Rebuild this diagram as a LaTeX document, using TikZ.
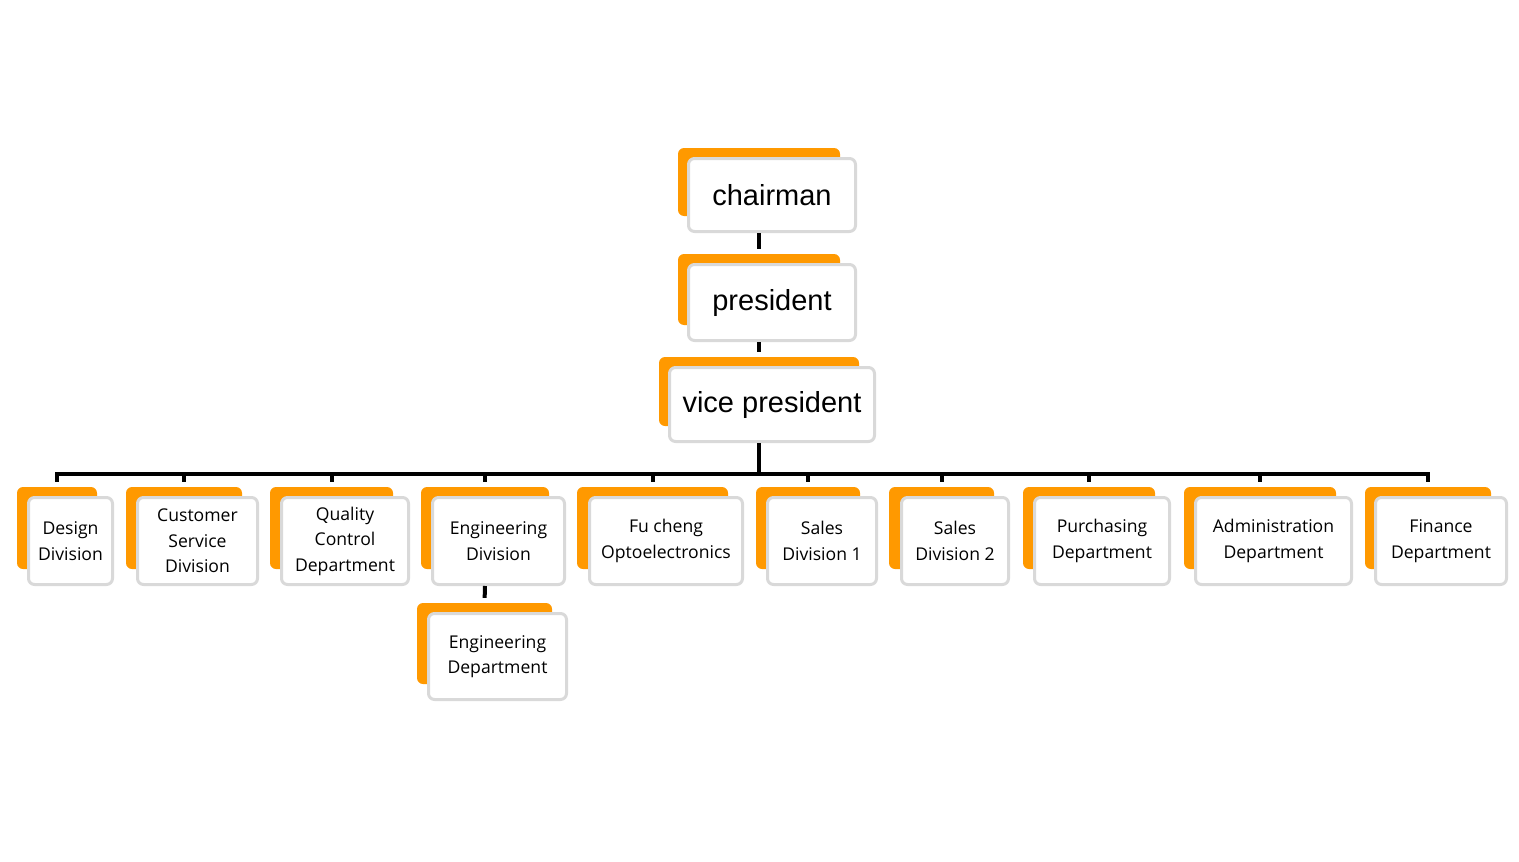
\documentclass[tikz,border=0pt]{standalone}
\usepackage{fontspec}
\setmainfont{Liberation Sans}
\newfontfamily\lowfont{Open Sans}
\usetikzlibrary{fit}
\definecolor{orgc}{HTML}{FF9900}
\definecolor{graybd}{HTML}{D9D9D9}
\tikzset{
  obg/.style={fill=orgc, draw=none, rounded corners=6pt, inner sep=0pt},
  wbox/.style={fill=white, draw=graybd, line width=3pt, rounded corners=6pt, inner sep=0pt, align=center, text=black},
  toptxt/.style={font=\fontsize{29}{34}\selectfont},
  lowtxt/.style={font=\lowfont\fontsize{17.6}{25.5}\selectfont},
  conn/.style={draw=black, line width=4pt},
}
% #1 name, #2 wx1, #3 wy1, #4 wx2, #5 wy2, #6 ox1, #7 ox2, #8 text, #9 text style
\newcommand\orgbox[9]{%
  \node[obg, fit={({#6},{#3-9}) ({#7},{#5-17})}] (#1-o) {};
  \node[wbox, #9, minimum width={#4-#2-3}, minimum height={#5-#3-3}] (#1) at ({(#2+#4)/2},{(#3+#5)/2}) {#8};
}
\begin{document}
\begin{tikzpicture}[x=1pt, y=-1pt]
\useasboundingbox (0,0) rectangle (1519,862);
\orgbox{chair}{687}{157}{857}{233}{678}{840}{chairman}{toptxt}
\orgbox{pres}{687}{263}{857}{342}{678}{840}{president}{toptxt}
\orgbox{vp}{668}{366}{876}{443}{659}{859}{vice president}{toptxt}
\orgbox{design}{27}{496}{114}{586}{17}{97}{Design\\Division}{lowtxt}
\orgbox{cust}{136}{496}{259}{586}{126}{242}{Customer\\Service\\Division}{lowtxt}
\orgbox{qual}{280}{496}{410}{586}{270}{393}{Quality\\Control\\Department}{lowtxt}
\orgbox{engdiv}{431}{496}{566}{586}{421}{549}{Engineering\\Division}{lowtxt}
\orgbox{fuch}{588}{496}{744}{586}{577}{728}{Fu cheng\\Optoelectronics}{lowtxt}
\orgbox{salesa}{766}{496}{878}{586}{756}{860}{Sales\\Division 1}{lowtxt}
\orgbox{salesb}{900}{496}{1010}{586}{889}{994}{Sales\\Division 2}{lowtxt}
\orgbox{purch}{1033}{496}{1171}{586}{1023}{1155}{Purchasing\\Department}{lowtxt}
\orgbox{admin}{1194}{496}{1353}{586}{1184}{1336}{Administration\\Department}{lowtxt}
\orgbox{fin}{1374}{496}{1508}{586}{1365}{1491}{Finance\\Department}{lowtxt}
\orgbox{engdept}{427}{612}{568}{701}{417}{552}{Engineering\\Department}{lowtxt}
\coordinate (bus) at (759,474);
% connectors
\draw[conn, shorten >=5pt] (chair-o |- chair.south) -- (pres-o.north);
\draw[conn, shorten >=5pt] (pres-o |- pres.south) -- (vp-o.north);
\draw[conn] (vp-o |- vp.south) -- (vp-o |- bus);
\draw[conn, shorten <=5pt, shorten >=5pt] (design-o.north) -- (design-o.north |- bus) -- (fin-o.north |- bus) -- (fin-o.north);
\foreach \n in {cust,qual,engdiv,fuch,salesa,salesb,purch,admin}{
  \draw[conn, shorten <=5pt] (\n-o.north) -- (\n-o.north |- bus);
}
\draw[conn, shorten >=5pt] (engdiv-o |- engdiv.south) -- (engdept-o.north);
\end{tikzpicture}
\end{document}
